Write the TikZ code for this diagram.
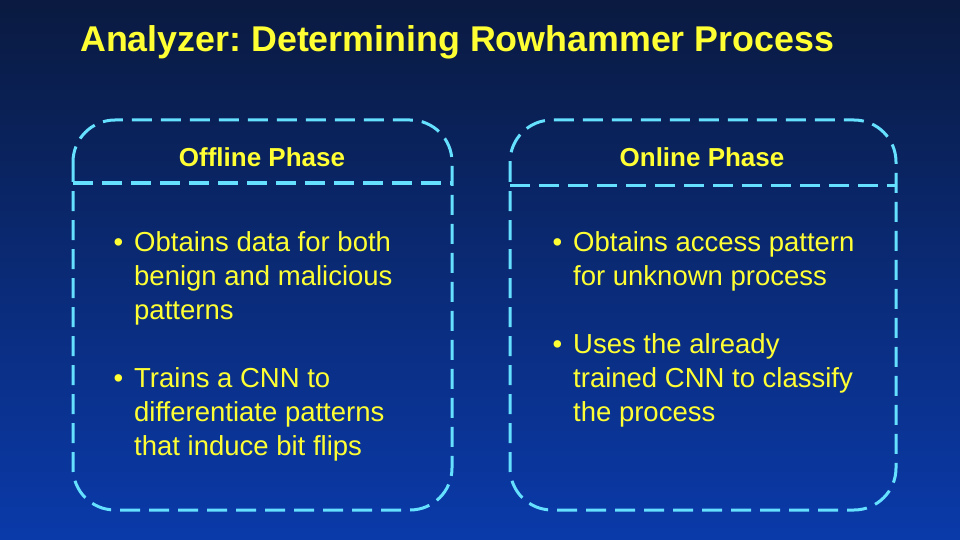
\documentclass[tikz,border=0pt]{standalone}
\usepackage{fontspec}
\setmainfont{Liberation Sans}
\frenchspacing
\begin{document}
\begin{tikzpicture}[x=1pt,y=-1pt,
  box/.style={draw=bord,line width=3pt,dash pattern=on 20pt off 9pt,rounded corners=42pt},
  sep/.style={draw=bord,line width=3pt,dash pattern=on 20pt off 9pt},
  hdr/.style={text=ylw,font=\fontsize{26}{30}\selectfont\bfseries,anchor=center},
  txt/.style={text=ylw,font=\fontsize{27.5}{34}\selectfont,anchor=north west,align=left,inner sep=0pt}]
\definecolor{ylw}{HTML}{FFFF33}
\definecolor{bord}{HTML}{66E0FF}
\definecolor{topc}{HTML}{0A1A40}
\definecolor{botc}{HTML}{0A3AAA}
\useasboundingbox (0,0) rectangle (960,540);
\shade[top color=topc,bottom color=botc] (0,0) rectangle (960,540);
\node[text=ylw,font=\fontsize{35.8}{40}\selectfont\bfseries,anchor=west,inner sep=0pt] (title) at (80,42) {Analyzer: Determining Rowhammer Process};
\draw[box] (73,120) rectangle (452,510);
\draw[sep] (73,183) -- (452,183);
\draw[box] (510,120) rectangle (896,510);
\draw[sep] (510,185) -- (896,185);
\node[hdr] (h1) at (262,157) {Offline Phase};
\node[hdr] (h2) at (702,157) {Online Phase};
\node[txt] (b1) at (134,231) {\llap{•\hspace{11pt}}Obtains data for both\\benign and malicious\\patterns};
\node[txt] (b2) at (134,367) {\llap{•\hspace{11pt}}Trains a CNN to\\differentiate patterns\\that induce bit flips};
\node[txt] (b3) at (573,231) {\llap{•\hspace{11pt}}Obtains access pattern\\for unknown process};
\node[txt] (b4) at (573,333) {\llap{•\hspace{11pt}}Uses the already\\trained CNN to classify\\the process};
\end{tikzpicture}
\end{document}
